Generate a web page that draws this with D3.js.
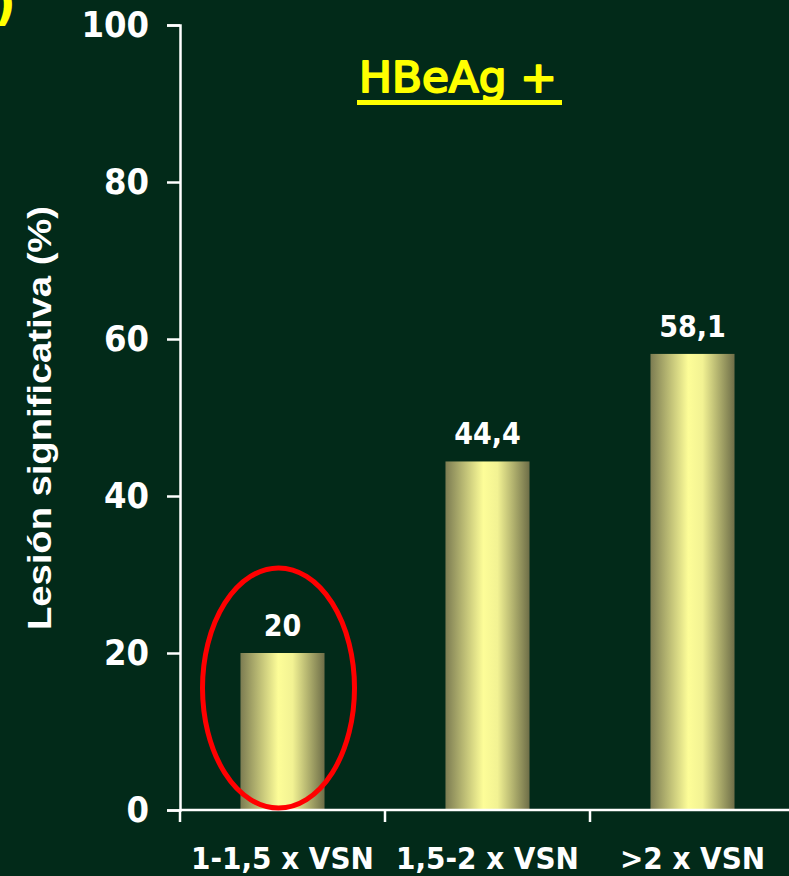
<!DOCTYPE html>
<html>
<head>
<meta charset="utf-8">
<script src="https://cdn.jsdelivr.net/npm/d3@7"></script>
<style>
  html, body { margin: 0; padding: 0; background: #022a19; }
  svg { display: block; }
</style>
</head>
<body>
<svg id="chart" width="789" height="876"></svg>
<script>
// Data
const categories = ["1-1,5 x VSN", "1,5-2 x VSN", ">2 x VSN"];
const values = [20, 44.4, 58.1];
const valueLabels = ["20", "44,4", "58,1"];
const yTicks = [0, 20, 40, 60, 80, 100];
const yTitle = "Lesión significativa (%)";
const panelTitle = "HBeAg +";

const W = 789, H = 876;
const svg = d3.select("#chart");
svg.append("rect").attr("width", W).attr("height", H).attr("fill", "#022a19");

const x0 = 180, x1 = 795, yTop = 25, yBot = 810;
const pad = 0.59;
const x = d3.scaleBand().domain(categories).range([x0, x1]).paddingInner(pad).paddingOuter(pad / 2);
const y = d3.scaleLinear().domain([0, 100]).range([yBot, yTop]);

const numFont = "'DejaVu Sans Condensed', 'DejaVu Sans', sans-serif";

// Bar fill: horizontal shading, light in the middle
const defs = svg.append("defs");
const grad = defs.append("linearGradient").attr("id", "barGrad")
  .attr("x1", "0%").attr("x2", "100%").attr("y1", "0%").attr("y2", "0%");
grad.append("stop").attr("offset", "0%").attr("stop-color", "#7c7c52");
grad.append("stop").attr("offset", "45%").attr("stop-color", "#fdfd98");
grad.append("stop").attr("offset", "62%").attr("stop-color", "#f2f293");
grad.append("stop").attr("offset", "100%").attr("stop-color", "#6e6e48");

// Bars
svg.append("g").selectAll("rect").data(values).join("rect")
  .attr("x", (d, i) => x(categories[i]))
  .attr("width", x.bandwidth())
  .attr("y", d => y(d))
  .attr("height", d => y(0) - y(d))
  .attr("fill", "url(#barGrad)");

// Value labels
svg.append("g").selectAll("text").data(values).join("text")
  .attr("x", (d, i) => x(categories[i]) + x.bandwidth() / 2)
  .attr("y", d => y(d) - 17)
  .attr("text-anchor", "middle")
  .attr("font-family", numFont)
  .attr("font-weight", "bold")
  .attr("font-size", 30)
  .attr("fill", "#ffffff")
  .text((d, i) => valueLabels[i]);

// Y axis
const yAxis = svg.append("g").attr("transform", `translate(${x0},0)`)
  .call(d3.axisLeft(y).tickValues(yTicks).tickSize(13).tickSizeOuter(13).tickPadding(18));
yAxis.select(".domain").attr("stroke", "#ffffff").attr("stroke-width", 2.5);
yAxis.selectAll(".tick line").attr("stroke", "#ffffff").attr("stroke-width", 2.5);
yAxis.selectAll(".tick text")
  .attr("fill", "#ffffff")
  .attr("font-family", numFont)
  .attr("font-weight", "bold")
  .attr("font-size", 36);

// X axis: ticks at band boundaries
const bounds = categories.map(c => x(c) - x.step() * pad / 2);
const xAxisG = svg.append("g").attr("transform", `translate(0,${yBot})`);
xAxisG.append("line").attr("x1", x0).attr("x2", W).attr("y1", 0).attr("y2", 0)
  .attr("stroke", "#ffffff").attr("stroke-width", 2.5);
xAxisG.selectAll("line.tk").data(bounds).join("line").attr("class", "tk")
  .attr("x1", d => d).attr("x2", d => d).attr("y1", 0).attr("y2", 12)
  .attr("stroke", "#ffffff").attr("stroke-width", 2.5);
xAxisG.selectAll("text").data(categories).join("text")
  .attr("x", d => x(d) + x.bandwidth() / 2)
  .attr("y", 59)
  .attr("text-anchor", "middle")
  .attr("font-family", numFont)
  .attr("font-weight", "bold")
  .attr("font-size", 31)
  .attr("fill", "#ffffff")
  .text(d => d);

// Y axis title
svg.append("text")
  .attr("transform", "translate(51,418) rotate(-90)")
  .attr("text-anchor", "middle")
  .attr("font-family", "'Liberation Sans', Arial, sans-serif")
  .attr("font-weight", "bold")
  .attr("font-size", 33)
  .attr("textLength", 424)
  .attr("lengthAdjust", "spacingAndGlyphs")
  .attr("fill", "#ffffff")
  .text(yTitle);

// Panel title with underline
svg.append("text")
  .attr("x", 359).attr("y", 92)
  .attr("font-family", "'DejaVu Sans', sans-serif")
  .attr("font-size", 42)
  .attr("textLength", 198)
  .attr("lengthAdjust", "spacingAndGlyphs")
  .attr("fill", "#ffff00")
  .attr("stroke", "#ffff00")
  .attr("stroke-width", 2)
  .attr("stroke-linejoin", "round")
  .text(panelTitle);
svg.append("rect").attr("x", 357).attr("y", 100).attr("width", 205).attr("height", 5).attr("fill", "#ffff00");

// Partial parenthesis at the top-left corner
svg.append("text")
  .attr("x", -6).attr("y", 20)
  .attr("font-family", "'DejaVu Sans', sans-serif")
  .attr("font-weight", "bold")
  .attr("font-size", 48)
  .attr("fill", "#ffff00")
  .text(")");

// Highlight ellipse around the first bar
svg.append("ellipse")
  .attr("cx", x(categories[0]) + x.bandwidth() / 2 - 4)
  .attr("cy", 688)
  .attr("rx", 76)
  .attr("ry", 120)
  .attr("fill", "none")
  .attr("stroke", "#ff0000")
  .attr("stroke-width", 5);
</script>
</body>
</html>
